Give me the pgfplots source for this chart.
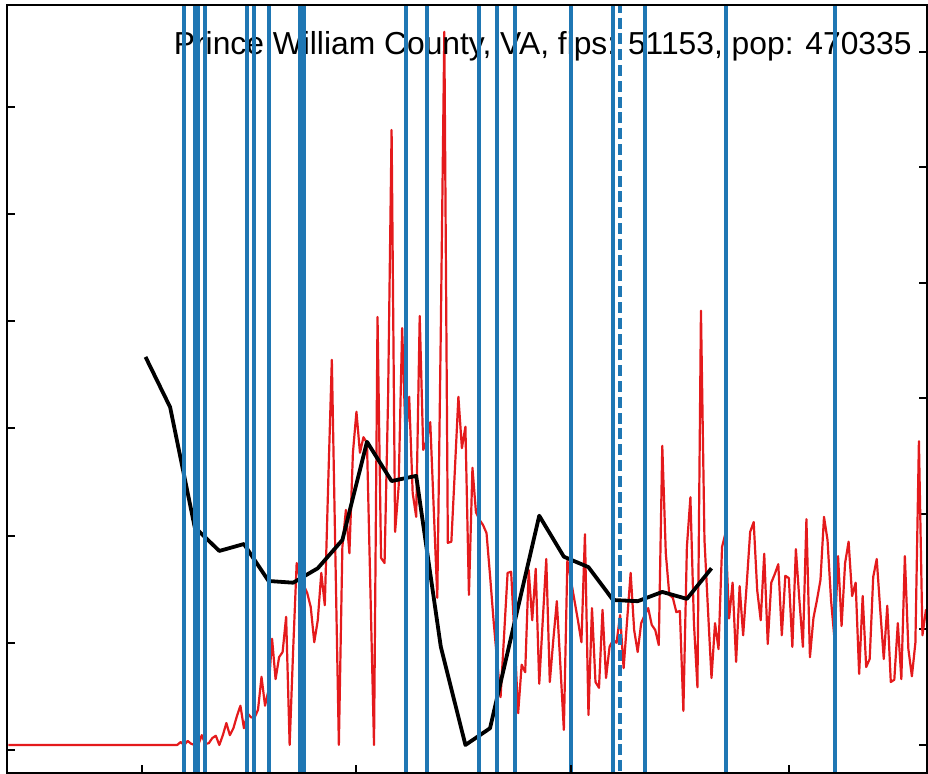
\documentclass[border=0pt]{standalone}
\usepackage{fontspec}
\setmainfont{Liberation Sans}
\usepackage{pgfplots}
\pgfplotsset{compat=1.18}
\definecolor{tabblue}{HTML}{1F77B4}
\definecolor{casered}{HTML}{E41A1C}

% daily new cases (right scale)
\pgfplotstableread{
day cases
1 0
10 0
20 0
30 0
40 0
49 0
50 0.5
51 0
52 0.7
53 0.2
54 0
55 0
56 1.7
57 0.2
58 0.3
59 1.2
60 1.6
61 0
62 1.7
63 3.8
64 1.7
65 2.9
66 5.0
67 6.8
68 2.9
69 5.5
70 4.8
71 4.7
72 6.1
73 11.8
74 6.8
75 9.5
76 18.4
77 11.4
78 15.2
79 16.1
80 22.2
81 0
82 16.5
83 31.5
84 28.6
85 27.7
86 26.3
87 23.9
88 17.8
89 21.6
90 29.8
91 24.2
92 45.9
93 66.7
94 33.2
95 0
96 34.3
97 40.7
98 33.2
99 50.6
100 57.7
101 50.6
102 53.3
103 52.3
104 26.1
105 0
106 74.1
107 32.4
108 31.5
109 60.0
110 106.5
111 36.9
112 44.7
113 72.2
114 52.8
115 60.3
116 43.6
117 39.5
118 74.3
119 51.1
120 52.8
121 55.9
122 40.7
123 25.5
124 71.9
125 123.5
126 35.0
127 35.2
128 47.6
129 60.3
130 51.4
131 55.1
132 26.0
133 48.0
134 40.3
135 39.0
136 38.1
137 36.7
138 29.4
139 21.6
140 14.7
141 8.3
142 19.0
143 29.8
144 30.0
145 18.2
146 5.5
147 13.9
148 12.6
149 30.3
150 21.6
151 30.5
152 10.6
153 21.6
154 32.2
155 10.9
156 18.2
157 24.9
158 13.9
159 2.6
160 31.9
161 28.6
162 25.1
163 21.6
164 17.8
165 36.5
166 5.2
167 23.7
168 10.9
169 9.9
170 23.4
171 11.6
172 17.0
173 18.2
174 17.7
175 22.5
176 13.3
177 21.6
178 29.8
179 19.9
180 16.1
181 21.1
182 22.5
183 23.7
184 20.8
185 19.9
186 17.3
187 51.8
188 33.2
189 26.0
190 25.5
191 23.0
192 23.2
193 5.9
194 34.3
195 42.9
196 21.1
197 10.0
198 75.2
199 35.5
200 23.4
201 11.6
202 21.1
203 16.6
204 34.3
205 36.7
206 21.9
207 28.1
208 14.4
209 27.5
210 19.0
211 27.7
212 36.9
213 38.6
214 26.8
215 21.6
216 33.1
217 17.5
218 28.1
219 29.6
220 31.3
221 19.0
222 29.3
223 28.9
224 17.0
225 33.9
226 25.1
227 17.0
228 39.1
229 15.2
230 22.0
231 25.1
232 28.6
233 39.5
234 35.5
235 25.1
236 18.2
237 32.7
238 20.6
239 31.5
240 35.2
241 25.8
242 28.1
243 12.3
244 25.8
245 13.5
246 14.9
247 29.1
248 32.2
249 23.4
250 14.9
251 24.1
252 10.9
253 11.3
254 21.1
255 11.4
256 32.7
257 16.6
258 11.9
259 17.7
260 52.6
261 19.0
262 23.4
263 20.4
}\dailycases

% weekly values
\pgfplotstableread{
day value
40 67.2
47 58.5
54 37.7
61 33.6
68 34.8
75 28.4
82 28.1
89 30.6
96 35.5
103 52.5
110 45.7
117 46.6
124 17.0
131 0
138 2.9
145 21.3
152 39.7
159 32.6
166 30.8
173 25.1
180 24.9
187 26.5
194 25.3
201 30.6
}\weekly

\begin{document}
\begin{tikzpicture}
\pgfplotsset{
  base/.style={
    width=460pt, height=384pt, scale only axis,
    xmin=0.6, xmax=262.3,
    tick align=inside, major tick length=4pt,
    every tick/.style={black, line width=1pt},
    xticklabel={}, yticklabel={},
  },
}
% data axis, ticks on the right
\begin{axis}[base,
    ymin=-4.849, ymax=128.14,
    axis line style={draw=none},
    xtick=\empty,
    ytick={0,20,...,120}, ytick pos=right,
  ]
  \addplot[casered, line width=1.1pt, line join=round, no markers] table[x=day, y=cases] {\dailycases};
  \addplot[black, line width=1.9pt, line join=round, no markers] table[x=day, y=value] {\weekly};
  \node[anchor=base east, inner sep=0pt, font=\fontsize{15.9pt}{19pt}\selectfont]
    at (rel axis cs:0.9837,0.9349) {Prince William County, VA, fips: 51153, pop: 470335};
  \pgfplotsinvokeforeach{51,54,55,57,69,71,75,84,85,114,120,135,140,145,161,173,182,205,236}{
    \addplot[tabblue, line width=2pt, no markers] coordinates {(#1,-10) (#1,140)};
  }
  \addplot[tabblue, line width=2pt, no markers, dash pattern=on 5.5pt off 2.4pt] coordinates {(175,-10) (175,140)};
\end{axis}
% frame with left and bottom ticks
\begin{axis}[base,
    ymin=-0.2146, ymax=6.950,
    axis line style={line width=1pt},
    xtick={39,100,161,223}, xtick pos=bottom,
    ytick={0,...,6}, ytick pos=left,
  ]
\end{axis}
\pgfresetboundingbox
\useasboundingbox (-3.5pt,-0.5pt) rectangle (460.5pt,386.5pt);
\end{tikzpicture}
\end{document}
